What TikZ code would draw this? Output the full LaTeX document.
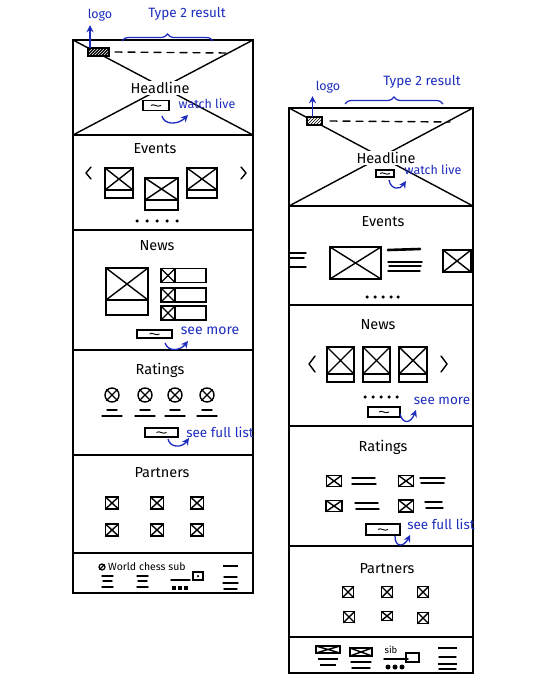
\documentclass[tikz,border=0pt]{standalone}
\usepackage{fontspec}
\setmainfont{Fira Sans}
\usetikzlibrary{arrows.meta,decorations.pathreplacing,patterns}
\definecolor{skblue}{RGB}{30,45,190}
\newcommand{\skxbox}[5]{%
  \node[xb,minimum width=#4pt,minimum height=#5pt] (#1) at (#2,#3) {};
  \draw[sk] (#1.north west) -- (#1.south east) (#1.north east) -- (#1.south west);}
\newcommand{\skcard}[6]{%
  \node[xb,minimum width=#4pt,minimum height=#5pt,anchor=north] (#1) at (#2,#3) {};
  \draw[sk] (#1.north west) -- (#1.south east) (#1.north east) -- (#1.south west);
  \node[xb,minimum width=#4pt,minimum height=#6pt,anchor=north] (#1c) at (#1.south) {};}
\newcommand{\skbtn}[5]{%
  \node[xb,minimum width=#4pt,minimum height=#5pt] (#1) at (#2,#3) {};
  \draw[line width=.9pt] ([xshift=-5pt]#1.center) .. controls ([xshift=-2pt,yshift=2.5pt]#1.center) and ([xshift=1pt,yshift=-2.5pt]#1.center) .. ([xshift=5pt]#1.center);}
\begin{document}
\begin{tikzpicture}[x=1pt,y=-1pt,
  sk/.style={line width=1.4pt,black,line cap=round,line join=round},
  frame/.style={line width=1.7pt,black,line cap=round},
  xb/.style={draw,line width=1.4pt,inner sep=0pt,outer sep=0pt,rectangle},
  head/.style={font=\fontsize{14.5}{16}\selectfont,inner sep=0pt},
  note/.style={font=\fontsize{12.5}{14}\selectfont,text=skblue,inner sep=0pt},
  barrow/.style={draw=skblue,line width=1.3pt,-{Stealth[length=7pt,width=7pt]}},
  dot/.style={circle,fill,inner sep=0pt,minimum size=3.5pt},
  rcirc/.style={circle,draw,line width=1.4pt,minimum size=14pt,inner sep=0pt},
  brc/.style={skblue,line width=1.2pt,decorate,decoration={brace,amplitude=7pt}}]
\fill[white] (0,0) rectangle (538,684);
\useasboundingbox (0,0) rectangle (538,684);

% ================= LEFT COLUMN =================
\draw[frame] (73,40) rectangle (253,593);
\foreach \y in {135,230,350,455,553} \draw[frame] (73,\y) -- (253,\y);
\draw[sk] (73,40) -- (253,135) (253,40) -- (73,135);
% header
\node[xb,minimum width=21pt,minimum height=8pt,preaction={fill=black},pattern=north east lines,pattern color=white] (lg1) at (98.5,52) {};
\draw[sk,dash pattern=on 7pt off 6pt] ([xshift=6pt]lg1.east) -- (226,53);
\node[note] (lgt1) at (100,15) {logo};
\coordinate (lga1) at ([xshift=2pt]lg1.north west);
\draw[barrow,shorten >=4pt] (lga1) -- (lga1 |- lgt1.south);
\node[note,font=\fontsize{13.5}{15}\selectfont] (t2a) at (187,14) {Type 2 result};
\draw[brc] (122,41) -- (213,41);
\node[head,fill=white,inner sep=1pt] (hl1) at (160,88) {Headline};
\skbtn{wb1}{156}{105.5}{26}{10}
\node[note] (wl1) at (207,104) {watch live};
\coordinate (wa1s) at (162,116);
\coordinate (wa1e) at (188,115);
\draw[barrow] (wa1s) .. controls (164,125) and (178,125) .. (wa1e);
% events
\node[head] (ev1) at (155,149) {Events};
\draw[sk] (91,167) -- (86,173) -- (91,179);
\draw[sk] (241,167) -- (246,173) -- (241,179);
\skcard{c1}{119}{168}{28}{22}{8}
\skcard{c2}{161.5}{178}{33}{22}{10}
\skcard{c3}{202}{168}{30}{22}{8}
\foreach \x [count=\i] in {137,147,157,167,177} \node[dot] (ed\i) at (\x,221) {};
% news
\node[head] (nw1) at (157,246) {News};
\skcard{nb1}{127}{268}{42}{32}{15}
\foreach \y [count=\i] in {275.5,295,313}{
  \node[xb,minimum width=45pt,minimum height=14pt,anchor=west] (li\i) at (161,\y) {};
  \skxbox{lx\i}{168}{\y}{14}{14}
}
\skbtn{sb1}{154.5}{334}{35}{8}
\node[note,font=\fontsize{14}{15}\selectfont] (sm1) at (210,331) {see more};
\coordinate (sa1s) at (165,343);
\coordinate (sa1e) at (188,341);
\draw[barrow] (sa1s) .. controls (168,352) and (180,351) .. (sa1e);
% ratings
\node[head] (rt1) at (160,370) {Ratings};
\foreach \x [count=\i] in {112,145,175,207}{
  \node[rcirc] (rc\i) at (\x,395) {};
  \draw[sk] (rc\i.north west) -- (rc\i.south east) (rc\i.north east) -- (rc\i.south west);
  \draw[sk] ({\x-5},410) -- ({\x+5},410) ({\x-10},416) -- ({\x+10},416);
}
\skbtn{fb1}{161.5}{432.5}{33}{9}
\node[note,font=\fontsize{13.5}{15}\selectfont] (fl1) at (220,432) {see full list};
\coordinate (fa1s) at (168,439);
\coordinate (fa1e) at (189,438);
\draw[barrow] (fa1s) .. controls (170,448) and (182,448) .. (fa1e);
% partners
\node[head] (pt1) at (162,473) {Partners};
\foreach \x [count=\i] in {112,157,197}{
  \skxbox{pa\i}{\x}{503}{13}{12}
  \skxbox{pb\i}{\x}{530}{13}{12}
}
% footer
\node[circle,draw,line width=1.2pt,inner sep=0pt,minimum size=6pt] (fc1) at (102,567) {};
\draw[line width=1.2pt] (fc1.north east) -- (fc1.south west);
\node[font=\fontsize{10.5}{12}\selectfont,anchor=west,inner sep=0pt] (wcs) at (108,567) {World chess sub};
\node[xb,minimum width=10pt,minimum height=8pt] (fsq1) at (198,576) {};
\node[dot,minimum size=2.5pt] (fsd1) at (fsq1.center) {};
\draw[sk] (171,580) -- (190,580);
\foreach \x [count=\i] in {174,180,186} \node[fill,inner sep=0pt,minimum size=4pt] (fs\i) at (\x,588) {};
\foreach \x in {102,137}
  \draw[sk] (\x,576) -- ({\x+11},576) ({\x+1},581) -- ({\x+10},581) (\x,587) -- ({\x+11},587);
\draw[line width=2.4pt] (223,566) -- (238,566);
\draw[sk] (224,577) -- (237,577) (223,583) -- (238,583) (224,589) -- (237,589);

% ================= RIGHT COLUMN =================
\draw[frame] (289,108) rectangle (473,673);
\foreach \y in {206,305,426,546,637} \draw[frame] (289,\y) -- (473,\y);
\draw[sk] (289,108) -- (473,206) (473,108) -- (289,206);
% header
\node[xb,minimum width=15pt,minimum height=8pt,preaction={fill=white},pattern=north east lines] (lg2) at (314.5,121) {};
\draw[sk,dash pattern=on 7pt off 6pt] ([xshift=8pt]lg2.east) -- (450,122);
\node[note] (lgt2) at (328,87) {logo};
\coordinate (lga2) at ([xshift=-2pt]lg2.north);
\draw[barrow,shorten >=3pt] (lga2) -- (lga2 |- lgt2.south);
\node[note,font=\fontsize{13.5}{15}\selectfont] (t2b) at (422,82) {Type 2 result};
\draw[brc] (345,104) -- (443,104);
\node[head,fill=white,inner sep=1pt] (hl2) at (386,158) {Headline};
\skbtn{wb2}{385}{173.5}{18}{7}
\node[note] (wl2) at (433,170) {watch live};
\coordinate (wa2s) at (389,180);
\coordinate (wa2e) at (406,181);
\draw[barrow] (wa2s) .. controls (391,190) and (400,190) .. (wa2e);
% events
\node[head] (ev2) at (383,222) {Events};
\draw[sk] (290,253) -- (306,253) (290,258) -- (304,258) (290,267) -- (306,267);
\skxbox{ei2}{355.5}{263}{51}{32}
\draw[line width=2.6pt,line cap=round] (388,250) -- (420,249);
\draw[sk] (388,262) -- (422,262) (389,266) -- (421,266) (388,271) -- (420,271);
\skxbox{ei3}{457}{261}{28}{22}
\foreach \x [count=\i] in {367,375,383,391,398} \node[dot] (ee\i) at (\x,297) {};
% news
\node[head] (nw2) at (378,325) {News};
\draw[sk] (315,356) -- (309,364) -- (315,372);
\draw[sk] (441,356) -- (447,364) -- (441,372);
\skcard{n21}{340.5}{347}{27}{27}{8}
\skcard{n22}{376.5}{347}{27}{27}{8}
\skcard{n23}{413}{347}{28}{27}{8}
\foreach \x [count=\i] in {365,373,381,389,397} \node[dot] (ne\i) at (\x,397) {};
\skbtn{sb2}{384}{412}{32}{10}
\node[note,font=\fontsize{13.5}{15}\selectfont] (sm2) at (442,401) {see more};
\coordinate (sa2s) at (400,414);
\coordinate (sa2e) at (416,410);
\draw[barrow] (sa2s) .. controls (403,425) and (411,423) .. (sa2e);
% ratings
\node[head] (rt2) at (383,447) {Ratings};
\skxbox{ra1}{334}{481}{15}{11}
\skxbox{ra2}{406}{481}{15}{11}
\skxbox{ra3}{334}{506}{16}{11}
\skxbox{ra4}{406}{506}{15}{12}
\draw[sk] (352,478) -- (375,478) (352,484) -- (376,484);
\draw[sk] (420,478) -- (445,478) (421,483) -- (444,483);
\draw[sk] (355,503) -- (378,503) (356,509) -- (379,509);
\draw[sk] (425,502) -- (442,502) (426,508) -- (443,508);
\skbtn{fb2}{383}{529.5}{34}{11}
\node[note,font=\fontsize{13.5}{15}\selectfont] (fl2) at (441,524) {see full list};
\coordinate (fa2s) at (395,536);
\coordinate (fa2e) at (410,535);
\draw[barrow] (fa2s) .. controls (395,548) and (404,547) .. (fa2e);
% partners
\node[head] (pt2) at (387,569) {Partners};
\skxbox{pc1}{348}{592}{11}{11}
\skxbox{pc2}{387}{592}{11}{11}
\skxbox{pc3}{423}{592}{11}{11}
\skxbox{pd1}{349}{617}{11}{11}
\skxbox{pd2}{387}{616}{11}{9}
\skxbox{pd3}{423}{618}{11}{11}
% footer
\skxbox{fx1}{328}{649.5}{24}{7}
\draw[line width=1.8pt] (318,659) -- (338,659) (320,665) -- (336,665);
\skxbox{fx2}{361}{652}{22}{8}
\draw[sk] (351,662) -- (371,662) (352,668) -- (370,668);
\node[font=\fontsize{9.5}{11}\selectfont,inner sep=0pt] (sib) at (391,650) {sib};
\draw[sk] (384,659) -- (408,659);
\foreach \x [count=\i] in {388,395,402} \node[dot,minimum size=5pt] (fd\i) at (\x,667) {};
\node[xb,minimum width=13pt,minimum height=9pt] (fsq2) at (412.5,657.5) {};
\draw[line width=2.2pt] (438,648) -- (457,648) (438,664) -- (457,664);
\draw[sk] (439,657) -- (456,657) (439,669) -- (456,669);
\end{tikzpicture}
\end{document}
